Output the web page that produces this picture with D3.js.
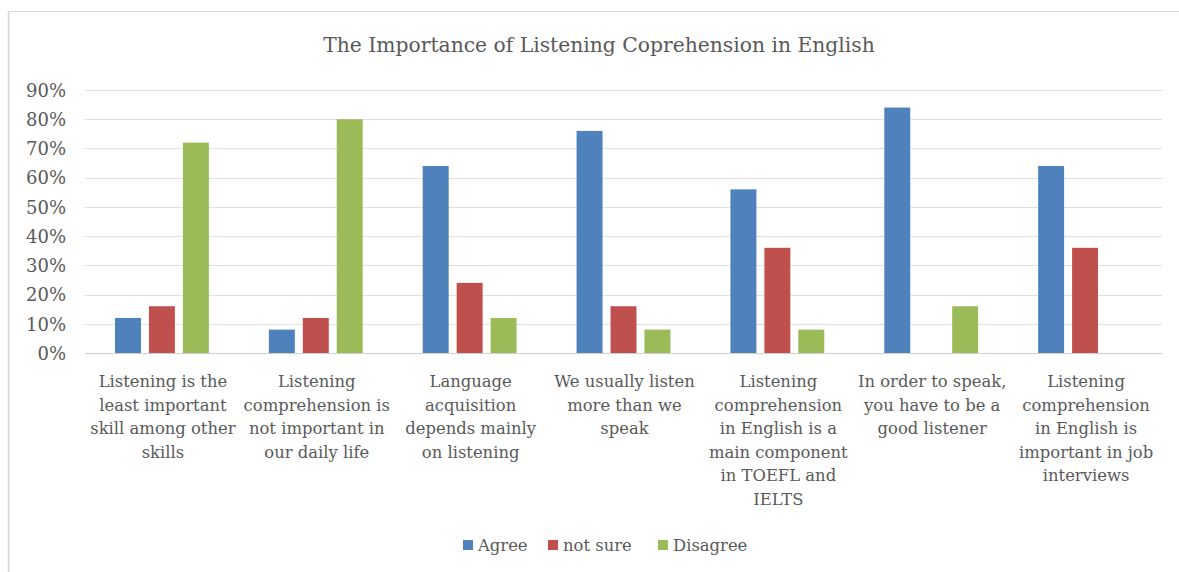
<!DOCTYPE html>
<html>
<head>
<meta charset="utf-8">
<script src="https://cdn.jsdelivr.net/npm/d3@7"></script>
<style>
html,body{margin:0;padding:0;background:#fff;}
svg{display:block;}
</style>
</head>
<body>
<svg id="chart" width="1179" height="572"></svg>
<script>
const title = "The Importance of Listening Coprehension in English";
const categories = [
  ["Listening is the","least important","skill among other","skills"],
  ["Listening","comprehension is","not important in","our daily life"],
  ["Language","acquisition","depends mainly","on listening"],
  ["We usually listen","more than we","speak"],
  ["Listening","comprehension","in English is a","main component","in TOEFL and","IELTS"],
  ["In order to speak,","you have to be a","good listener"],
  ["Listening","comprehension","in English is","important in job","interviews"]
];
const seriesNames = ["Agree","not sure","Disagree"];
const seriesColors = ["#4F81BD","#C0504D","#9BBB59"];
const agree    = [0.12, 0.08, 0.64, 0.76, 0.56, 0.84, 0.64];
const notSure  = [0.16, 0.12, 0.24, 0.16, 0.36, 0.00, 0.36];
const disagree = [0.72, 0.80, 0.12, 0.08, 0.08, 0.16, 0.00];
const yTicks = [0,0.1,0.2,0.3,0.4,0.5,0.6,0.7,0.8,0.9];

(function(){
const values = [agree, notSure, disagree];
const svg = d3.select("#chart");
const font = "'DejaVu Serif', serif";
const textColor = "#595959";

// chart frame (left & top edges visible)
svg.append("line").attr("x1",8.5).attr("x2",8.5).attr("y1",11).attr("y2",572).attr("stroke","#d4d4d4").attr("stroke-width",1.5);
svg.append("line").attr("x1",8).attr("x2",1179).attr("y1",11.5).attr("y2",11.5).attr("stroke","#dcdcdc").attr("stroke-width",1);

const pLeft = 85, pRight = 1162, pTop = 90, pBottom = 353;
const y = d3.scaleLinear().domain([0,0.9]).range([pBottom, pTop]);
const x0 = d3.scaleBand().domain(d3.range(categories.length)).range([pLeft,pRight]).paddingInner(0.39).paddingOuter(0.195);
const x1 = d3.scaleBand().domain(d3.range(seriesNames.length)).range([0, x0.bandwidth()]).paddingInner(0.235).paddingOuter(0);

// gridlines
svg.append("g").selectAll("line").data(yTicks).join("line")
  .attr("x1",pLeft).attr("x2",pRight)
  .attr("y1",d=>Math.round(y(d))+0.5).attr("y2",d=>Math.round(y(d))+0.5)
  .attr("stroke",d=>d===0?"#d0d0d0":"#e0e0e0").attr("stroke-width",1);

// y axis labels
const yAxis = d3.axisLeft(y).tickValues(yTicks).tickFormat(d3.format(".0%")).tickSize(0).tickPadding(0);
const gy = svg.append("g").attr("transform","translate(66,0)").call(yAxis);
gy.select(".domain").remove();
gy.selectAll("text").attr("font-family",font).attr("font-size",18).attr("fill",textColor).attr("dy","0.35em");

// bars
const groups = svg.append("g").selectAll("g").data(categories.map((c,i)=>i)).join("g")
  .attr("transform",i=>`translate(${x0(i)},0)`);
groups.selectAll("rect").data(i=>values.map((s,k)=>({k, v:s[i]}))).join("rect")
  .attr("x",d=>x1(d.k)).attr("width",x1.bandwidth())
  .attr("y",d=>y(d.v)).attr("height",d=>y(0)-y(d.v))
  .attr("fill",d=>seriesColors[d.k]);

// category labels
const lab = svg.append("g").selectAll("text").data(categories.map((c,i)=>({c,i}))).join("text")
  .attr("text-anchor","middle").attr("font-family",font).attr("font-size",16.4).attr("fill",textColor)
  .attr("x",d=>x0(d.i)+x0.bandwidth()/2+1).attr("y",387);
lab.selectAll("tspan").data(d=>d.c.map(t=>({t,x:x0(d.i)+x0.bandwidth()/2+1}))).join("tspan")
  .attr("x",d=>d.x).attr("dy",(d,j)=>j===0?0:23.6).text(d=>d.t);

// title
svg.append("text").attr("x",599).attr("y",52).attr("text-anchor","middle")
  .attr("font-family",font).attr("font-size",20.3).attr("fill",textColor).text(title);

// legend
const legendX = [463, 548, 658];
const lg = svg.append("g").selectAll("g").data(seriesNames.map((n,k)=>({n,k}))).join("g")
  .attr("transform",d=>`translate(${legendX[d.k]},0)`);
lg.append("rect").attr("x",0).attr("y",540).attr("width",10).attr("height",10).attr("fill",d=>seriesColors[d.k]);
lg.append("text").attr("x",15).attr("y",551).attr("font-family",font).attr("font-size",16.4).attr("fill",textColor).text(d=>d.n);
})();
</script>
</body>
</html>
